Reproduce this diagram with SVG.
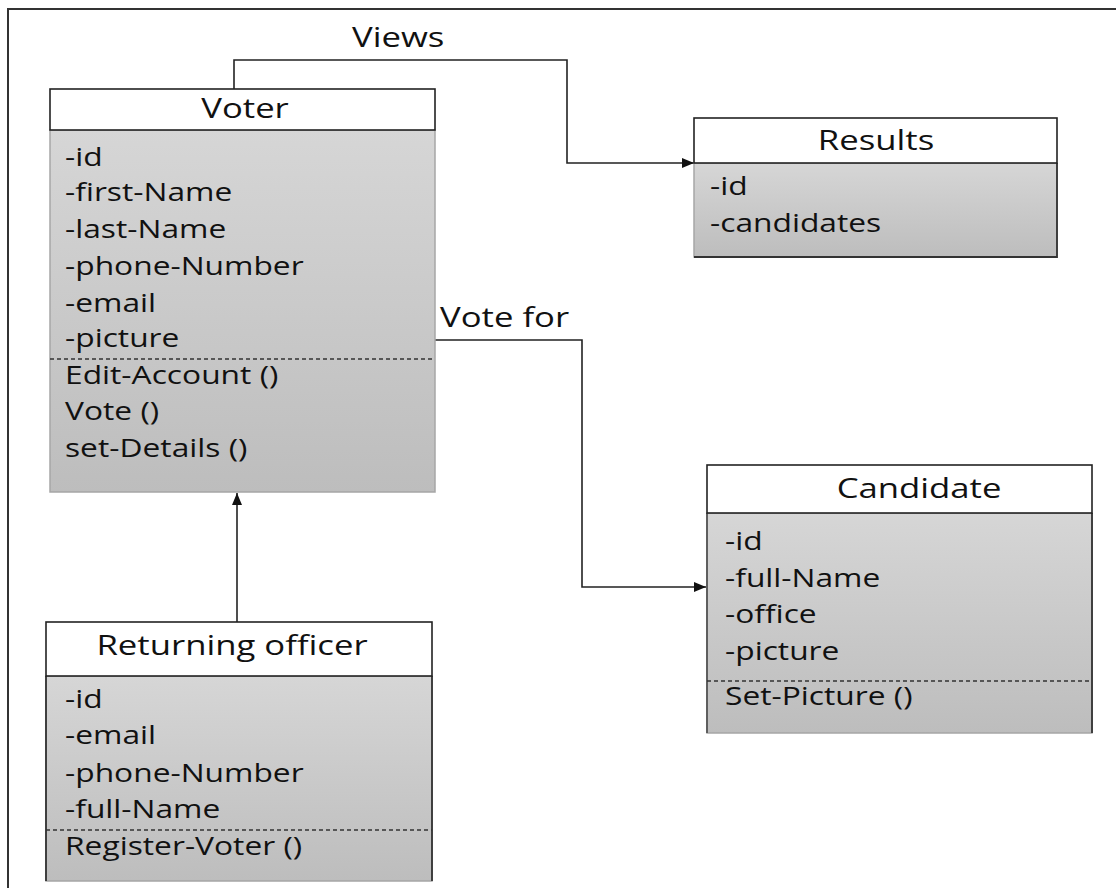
<svg xmlns="http://www.w3.org/2000/svg" width="1116" height="888" viewBox="0 0 1116 888">
<defs>
<linearGradient id="bodyGrad" x1="0" y1="0" x2="0" y2="1">
<stop offset="0" stop-color="#d6d6d6"/>
<stop offset="1" stop-color="#bdbdbd"/>
</linearGradient>
<marker id="arrow" viewBox="0 0 12 10" refX="12" refY="5" markerWidth="12" markerHeight="10" markerUnits="userSpaceOnUse" orient="auto">
<path d="M0,0 L12,5 L0,10 z" fill="#111"/>
</marker>
</defs>
<style>
.frame{fill:none;stroke:#333;stroke-width:2}
.head{fill:#fff;stroke:#222;stroke-width:1.6}
.body{fill:url(#bodyGrad);stroke:#a6a6a6;stroke-width:1.5}
.edge{stroke:#333;stroke-width:1.8;fill:none}
.dash{stroke:#333;stroke-width:1.3;stroke-dasharray:4 3;fill:none}
.conn{fill:none;stroke:#222;stroke-width:1.6}
.t{font-family:"Open Sans","Liberation Sans",sans-serif;fill:#111}
.title{font-size:28px;text-anchor:middle}
.attr{font-size:25px}
.label{font-size:28px}
</style>
<path class="frame" d="M8,888 V9 H1116"/>

<g id="connectors">
<path class="conn" d="M234,89 V60 H567 V163 H694" marker-end="url(#arrow)"/>
<path class="conn" d="M435,340 H582 V587 H706" marker-end="url(#arrow)"/>
<path class="conn" d="M237,622 V493" marker-end="url(#arrow)"/>
<text class="t label" transform="translate(352 47) scale(1.24 1)">Views</text>
<text class="t label" transform="translate(440 327) scale(1.24 1)">Vote for</text>
</g>

<g id="voter">
<rect class="body" x="50" y="130" width="385" height="362"/>
<rect class="head" x="50" y="89" width="385" height="41"/>
<line class="dash" x1="50" y1="359" x2="435" y2="359"/>
<text class="t title" transform="translate(245 118) scale(1.24 1)">Voter</text>
<text class="t attr" transform="translate(65 166) scale(1.27 1)">-id</text>
<text class="t attr" transform="translate(65 201) scale(1.27 1)">-first-Name</text>
<text class="t attr" transform="translate(65 238) scale(1.27 1)">-last-Name</text>
<text class="t attr" transform="translate(65 275) scale(1.27 1)">-phone-Number</text>
<text class="t attr" transform="translate(65 312) scale(1.27 1)">-email</text>
<text class="t attr" transform="translate(65 347) scale(1.27 1)">-picture</text>
<text class="t attr" transform="translate(65 384) scale(1.27 1)">Edit-Account ()</text>
<text class="t attr" transform="translate(65 420) scale(1.27 1)">Vote ()</text>
<text class="t attr" transform="translate(65 457) scale(1.27 1)">set-Details ()</text>
</g>

<g id="results">
<rect class="body" x="694" y="163" width="363" height="94"/>
<path class="edge" d="M1057,163 V257 H694"/>
<rect class="head" x="694" y="118" width="363" height="45"/>
<text class="t title" transform="translate(876 150) scale(1.24 1)">Results</text>
<text class="t attr" transform="translate(710 195) scale(1.27 1)">-id</text>
<text class="t attr" transform="translate(710 232) scale(1.27 1)">-candidates</text>
</g>

<g id="candidate">
<rect class="body" x="707" y="513" width="385" height="220"/>
<path class="edge" d="M1092,513 V733"/>
<path class="edge" d="M707,513 V733" style="stroke:#555"/>
<rect class="head" x="707" y="465" width="385" height="48"/>
<line class="dash" x1="707" y1="681" x2="1092" y2="681"/>
<text class="t title" transform="translate(919 498) scale(1.24 1)">Candidate</text>
<text class="t attr" transform="translate(725 550) scale(1.27 1)">-id</text>
<text class="t attr" transform="translate(725 587) scale(1.27 1)">-full-Name</text>
<text class="t attr" transform="translate(725 623) scale(1.27 1)">-office</text>
<text class="t attr" transform="translate(725 660) scale(1.27 1)">-picture</text>
<text class="t attr" transform="translate(725 705) scale(1.27 1)">Set-Picture ()</text>
</g>

<g id="returning-officer">
<rect class="body" x="46" y="676" width="386" height="205"/>
<path class="edge" d="M46,676 V881 M432,676 V881"/>
<rect class="head" x="46" y="622" width="386" height="54"/>
<line class="dash" x1="46" y1="830" x2="432" y2="830"/>
<text class="t title" transform="translate(232 655) scale(1.24 1)">Returning officer</text>
<text class="t attr" transform="translate(65 708) scale(1.27 1)">-id</text>
<text class="t attr" transform="translate(65 744) scale(1.27 1)">-email</text>
<text class="t attr" transform="translate(65 782) scale(1.27 1)">-phone-Number</text>
<text class="t attr" transform="translate(65 818) scale(1.27 1)">-full-Name</text>
<text class="t attr" transform="translate(65 855) scale(1.27 1)">Register-Voter ()</text>
</g>
</svg>
